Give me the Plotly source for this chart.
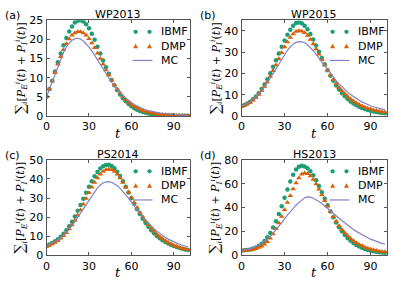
import plotly.graph_objects as go

t = list(range(0, 101, 2))

panel_titles = ["WP2013", "WP2015", "PS2014", "HS2013"]
panel_letters = ["(a)", "(b)", "(c)", "(d)"]
legend_names = ["IBMF", "DMP", "MC"]
x_ticks = [0, 30, 60, 90]
y_ranges = [[0, 25], [0, 45], [0, 50], [0, 80]]
y_dticks = [5, 10, 10, 20]

ibmf_a = [5.0, 7.0, 9.2, 11.6, 14.0, 16.3, 18.5, 20.4, 22.1, 23.4, 24.4, 24.9, 25.0, 24.7, 24.0, 22.9, 21.5, 19.9,
          18.1, 16.3, 14.5, 12.7, 11.0, 9.4, 8.0, 6.7, 5.6, 4.6, 3.8, 3.1, 2.5, 2.0, 1.6, 1.3, 1.0, 0.8, 0.65, 0.5,
          0.4, 0.32, 0.25, 0.2, 0.16, 0.13, 0.1, 0.08, 0.06, 0.05, 0.04, 0.03, 0.02]
dmp_a = [5.0, 7.0, 9.1, 11.3, 13.5, 15.5, 17.3, 18.9, 20.1, 21.1, 21.7, 22.0, 22.0, 21.7, 21.1, 20.2, 19.1, 17.8,
         16.4, 15.0, 13.5, 12.0, 10.6, 9.3, 8.1, 7.0, 6.0, 5.1, 4.3, 3.6, 3.0, 2.5, 2.1, 1.7, 1.4, 1.15, 0.95, 0.78,
         0.63, 0.52, 0.42, 0.34, 0.28, 0.22, 0.18, 0.15, 0.12, 0.1, 0.08, 0.06, 0.05]
mc_a = [5.0, 6.9, 8.9, 11.0, 13.0, 14.9, 16.6, 18.0, 19.1, 19.8, 20.2, 20.3, 20.1, 19.6, 18.9, 18.0, 17.0, 15.8,
        14.6, 13.4, 12.2, 11.0, 9.9, 8.8, 7.8, 6.9, 6.0, 5.3, 4.6, 4.0, 3.4, 3.0, 2.6, 2.2, 1.9, 1.6, 1.4, 1.2,
        1.0, 0.85, 0.72, 0.62, 0.53, 0.45, 0.38, 0.32, 0.28, 0.24, 0.2, 0.17, 0.15]

ibmf_b = [4.5, 5.1, 5.8, 6.7, 7.8, 9.1, 10.7, 12.6, 14.8, 17.3, 20.1, 23.1, 26.2, 29.4, 32.5, 35.5, 38.2, 40.6,
          42.5, 43.7, 44.0, 43.6, 42.5, 40.8, 38.6, 36.0, 33.2, 30.2, 27.2, 24.3, 21.5, 18.9, 16.5, 14.3, 12.4,
          10.7, 9.2, 7.9, 6.8, 5.8, 5.0, 4.3, 3.7, 3.2, 2.8, 2.4, 2.1, 1.8, 1.6, 1.4, 1.2]
dmp_b = [4.3, 4.9, 5.6, 6.4, 7.4, 8.6, 10.1, 11.8, 13.8, 16.0, 18.5, 21.2, 24.0, 26.9, 29.7, 32.4, 34.8, 36.9,
         38.6, 39.7, 40.1, 39.9, 39.1, 37.8, 36.0, 33.9, 31.5, 29.0, 26.4, 23.9, 21.5, 19.2, 17.1, 15.2, 13.4,
         11.8, 10.4, 9.1, 8.0, 7.0, 6.1, 5.4, 4.7, 4.1, 3.6, 3.2, 2.8, 2.5, 2.2, 1.9, 1.7]
mc_b = [4.5, 5.1, 5.8, 6.6, 7.6, 8.8, 10.2, 11.8, 13.6, 15.6, 17.8, 20.1, 22.4, 24.7, 26.9, 29.0, 30.9, 32.5,
        33.8, 34.6, 35.0, 34.9, 34.4, 33.5, 32.2, 30.7, 29.0, 27.2, 25.4, 23.5, 21.7, 19.9, 18.2, 16.6, 15.1,
        13.7, 12.4, 11.2, 10.1, 9.1, 8.2, 7.4, 6.6, 5.9, 5.3, 4.8, 4.3, 3.9, 3.5, 3.1, 2.8]

ibmf_c = [5.0, 5.7, 6.5, 7.4, 8.5, 9.8, 11.3, 13.1, 15.2, 17.6, 20.3, 23.3, 26.4, 29.6, 32.8, 35.9, 38.8, 41.4,
          43.6, 45.4, 46.6, 47.3, 47.4, 46.8, 45.6, 43.8, 41.5, 38.8, 35.9, 32.9, 29.9, 27.0, 24.2, 21.6, 19.2,
          17.0, 15.0, 13.2, 11.6, 10.2, 9.0, 7.9, 7.0, 6.2, 5.5, 4.9, 4.4, 3.9, 3.5, 3.1, 2.8]
dmp_c = [4.6, 5.2, 5.9, 6.7, 7.7, 8.9, 10.3, 11.9, 13.8, 15.9, 18.3, 21.0, 23.8, 26.8, 29.8, 32.8, 35.6, 38.2,
         40.5, 42.4, 43.9, 44.8, 45.1, 44.8, 43.9, 42.4, 40.5, 38.2, 35.7, 33.0, 30.3, 27.6, 25.0, 22.5, 20.2,
         18.0, 16.0, 14.2, 12.6, 11.1, 9.8, 8.7, 7.6, 6.7, 5.9, 5.2, 4.6, 4.1, 3.6, 3.2, 2.9]
mc_c = [5.0, 5.6, 6.3, 7.1, 8.1, 9.2, 10.5, 12.0, 13.7, 15.6, 17.7, 19.9, 22.2, 24.6, 27.0, 29.3, 31.5, 33.5,
        35.3, 36.8, 37.9, 38.5, 38.6, 38.3, 37.6, 36.5, 35.1, 33.5, 31.7, 29.8, 27.8, 25.8, 23.9, 22.0, 20.2,
        18.5, 16.9, 15.4, 14.0, 12.7, 11.5, 10.4, 9.4, 8.5, 7.7, 7.0, 6.4, 5.8, 5.3, 4.8, 4.4]

ibmf_d = [4.0, 4.2, 4.5, 5.0, 5.7, 6.7, 8.0, 9.8, 12.1, 15.1, 18.8, 23.3, 28.6, 34.6, 41.2, 48.2, 55.2, 61.8,
          67.5, 72.0, 74.2, 75.0, 74.5, 73.0, 70.5, 67.0, 62.8, 58.0, 52.8, 47.4, 42.0, 36.8, 32.0, 27.6, 23.6,
          20.1, 17.0, 14.4, 12.2, 10.3, 8.7, 7.4, 6.3, 5.4, 4.6, 4.0, 3.5, 3.1, 2.7, 2.4, 2.2]
dmp_d = [3.8, 4.0, 4.2, 4.5, 5.0, 5.6, 6.5, 7.7, 9.3, 11.5, 14.4, 18.0, 22.3, 27.2, 32.6, 38.3, 44.2, 50.0,
         55.5, 60.5, 64.8, 68.0, 69.0, 68.4, 66.5, 63.5, 59.7, 55.3, 50.6, 45.8, 41.1, 36.6, 32.4, 28.5, 24.9,
         21.7, 18.9, 16.4, 14.2, 12.3, 10.6, 9.2, 8.0, 6.9, 6.0, 5.2, 4.6, 4.0, 3.5, 3.1, 2.8]
mc_d = [4.0, 4.4, 4.9, 5.5, 6.3, 7.3, 8.5, 9.9, 11.6, 13.6, 15.9, 18.5, 21.3, 24.3, 27.4, 30.6, 33.7, 36.7,
        39.5, 42.0, 44.2, 46.5, 48.2, 48.9, 48.8, 47.8, 46.6, 45.1, 43.4, 41.5, 39.5, 37.4, 35.3, 33.2, 31.1,
        29.1, 27.1, 25.2, 23.4, 21.7, 20.1, 18.6, 17.2, 15.9, 14.7, 13.6, 12.6, 11.7, 10.8, 10.0, 9.3]

ibmf = [ibmf_a, ibmf_b, ibmf_c, ibmf_d]
dmp = [dmp_a, dmp_b, dmp_c, dmp_d]
mc = [mc_a, mc_b, mc_c, mc_d]

W, H = 394, 292
# panel boxes in pixels: (left, right, top, bottom)
boxes = [(43, 188, 15, 115), (240, 387, 15, 115), (43, 188, 161, 261), (240, 387, 161, 261)]

GREEN = "#1b9e77"
ORANGE = "#d95f02"
PURPLE = "#8480c8"
FONT = "DejaVu Sans"


def px(x):
    return x / W


def py(y):
    return 1 - y / H


fig = go.Figure()
layout = dict(
    width=W, height=H, margin=dict(l=0, r=0, t=0, b=0),
    paper_bgcolor="white", plot_bgcolor="white",
    font=dict(family=FONT, size=11, color="black"),
    showlegend=False,
    annotations=[], shapes=[],
)

for i in range(4):
    L, R, T, B = boxes[i]
    sfx = "" if i == 0 else str(i + 1)
    xa, ya = "x" + sfx, "y" + sfx
    fig.add_trace(go.Scatter(x=t, y=ibmf[i], mode="markers", name=legend_names[0], xaxis=xa, yaxis=ya,
                             marker=dict(symbol="circle", size=4.5, color=GREEN, line=dict(width=0))))
    fig.add_trace(go.Scatter(x=t, y=dmp[i], mode="markers", name=legend_names[1], xaxis=xa, yaxis=ya,
                             marker=dict(symbol="triangle-up", size=5, color=ORANGE, line=dict(width=0))))
    fig.add_trace(go.Scatter(x=t, y=mc[i], mode="lines", name=legend_names[2], xaxis=xa, yaxis=ya,
                             line=dict(color=PURPLE, width=1.2)))
    axcommon = dict(showline=True, mirror="ticks", linecolor="#555", linewidth=1, ticks="inside",
                    ticklen=3, tickcolor="#555", showgrid=False, zeroline=False,
                    tickfont=dict(family=FONT, size=11, color="black"))
    layout["xaxis" + sfx] = dict(domain=[px(L), px(R)], anchor=ya, range=[0, 101.5],
                                 tickvals=x_ticks, **axcommon)
    layout["yaxis" + sfx] = dict(domain=[py(B), py(T)], anchor=xa, range=y_ranges[i],
                                 dtick=y_dticks[i], tick0=0, **axcommon)
    cx = (L + R) / 2
    layout["annotations"] += [
        dict(text=panel_titles[i], x=px(cx), y=py(T - 6), xref="paper", yref="paper",
             showarrow=False, font=dict(family=FONT, size=11), xanchor="center", yanchor="middle"),
        dict(text=panel_letters[i], x=px(L - 44), y=py(T - 5), xref="paper", yref="paper",
             showarrow=False, font=dict(family=FONT, size=11), xanchor="left", yanchor="middle"),
        dict(text="<i>t</i>", x=px(cx), y=py(B + 18), xref="paper", yref="paper",
             showarrow=False, font=dict(family="DejaVu Serif", size=13), xanchor="center", yanchor="middle"),
        dict(text="<span style='font-size:14px'>∑</span><sub><i>i</i></sub>[<i>P</i><sub><i>E</i></sub>"
                  "<sup><i>i</i></sup>(<i>t</i>) + <i>P</i><sub><i>I</i></sub><sup><i>i</i></sup>(<i>t</i>)]",
             x=px(L - 27), y=py((T + B) / 2), xref="paper", yref="paper", textangle=-90,
             showarrow=False, font=dict(family="DejaVu Serif", size=11), xanchor="center", yanchor="middle"),
    ]
    # legend (drawn as shapes + text, matplotlib style with two markers)
    rows = [T + 12, T + 27, T + 42]
    m1, m2 = R - 55, R - 41
    for mx in (m1, m2):
        layout["shapes"].append(dict(type="circle", xref="paper", yref="paper",
                                     x0=px(mx - 2.2), x1=px(mx + 2.2), y0=py(rows[0] + 2.2), y1=py(rows[0] - 2.2),
                                     fillcolor=GREEN, line=dict(width=0)))
        ty = rows[1]
        layout["shapes"].append(dict(type="path", xref="paper", yref="paper",
                                     path=f"M {px(mx - 2.5)} {py(ty + 2.1)} L {px(mx + 2.5)} {py(ty + 2.1)} "
                                          f"L {px(mx)} {py(ty - 2.5)} Z",
                                     fillcolor=ORANGE, line=dict(width=0)))
    layout["shapes"].append(dict(type="line", xref="paper", yref="paper",
                                 x0=px(m1 - 3), x1=px(m2 + 3), y0=py(rows[2]), y1=py(rows[2]),
                                 line=dict(color=PURPLE, width=1.2)))
    for r, name in zip(rows, legend_names):
        layout["annotations"].append(dict(text=name, x=px(R - 31), y=py(r), xref="paper", yref="paper",
                                          showarrow=False, font=dict(family=FONT, size=11),
                                          xanchor="left", yanchor="middle"))

fig.update_layout(**layout)
fig.write_html("out.html", config={"displayModeBar": False},
               post_script="document.body.style.margin='0px';")
